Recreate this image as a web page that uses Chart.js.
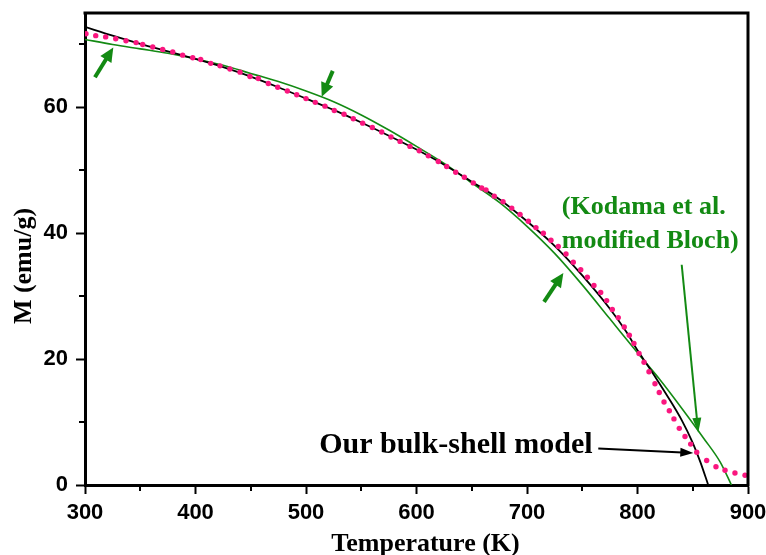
<!DOCTYPE html>
<html>
<head>
<meta charset="utf-8">
<script src="https://cdn.jsdelivr.net/npm/chart.js@4.4.0/dist/chart.umd.min.js"></script>
<style>
  html, body { margin: 0; padding: 0; background: #fff; }
</style>
</head>
<body>
<canvas id="chart" width="766" height="555"></canvas>
<script>
// measured magnetization (pink dots)
const measT = [300.9, 309.7, 318.7, 327.8, 337.1, 346.2, 352.2, 361.3, 370.3, 379.4,
  388.4, 397.5, 404.7, 413.8, 422.2, 431.2, 440.3, 449.3, 456.8, 465.9,
  474.4, 483.1, 491.6, 500.0, 508.4, 517.2, 525.6, 534.4, 542.8, 551.3,
  560.0, 568.5, 576.9, 585.1, 594.1, 602.5, 610.7, 619.7, 627.3, 635.5,
  643.3, 651.4, 659.0, 662.9, 670.4, 678.3, 686.2, 693.7, 701.2, 708.1,
  714.8, 721.7, 728.3, 735.3, 741.9, 748.6, 754.6, 760.6, 766.7, 772.1,
  777.2, 782.6, 788.0, 792.6, 796.8, 801.4, 805.9, 810.4, 815.8, 819.7,
  824.0, 828.8, 833.0, 837.8, 843.0, 848.1, 853.6, 862.6, 871.0, 879.2,
  888.2, 897.3];
const measM = [71.7, 71.4, 71.2, 70.9, 70.6, 70.3, 70.0, 69.6, 69.2, 68.8,
  68.3, 67.9, 67.6, 67.0, 66.6, 66.1, 65.6, 64.9, 64.6, 63.8,
  63.2, 62.6, 62.0, 61.4, 60.8, 60.2, 59.5, 58.9, 58.2, 57.5,
  56.8, 56.1, 55.3, 54.6, 53.8, 53.1, 52.3, 51.4, 50.6, 49.7,
  48.9, 48.0, 47.2, 46.9, 45.9, 45.0, 44.0, 43.0, 41.9, 40.9,
  40.0, 38.9, 37.9, 36.7, 35.4, 34.2, 33.0, 31.7, 30.6, 29.3,
  27.9, 26.6, 25.1, 23.8, 22.5, 20.9, 19.5, 18.0, 16.1, 14.7,
  13.2, 11.8, 10.5, 9.0, 7.7, 6.5, 5.2, 3.9, 2.9, 2.35,
  1.9, 1.55];

// bulk-shell model (black line)
const modelT = [300, 325, 350, 375, 400, 425, 450, 475, 500, 525, 550, 575, 600, 625, 650,
  675, 700, 725, 750, 775, 790, 800, 810, 820, 830, 840, 850, 857, 864];
const modelM = [72.8, 71.4, 70.1, 68.9, 67.7, 66.4, 64.9, 63.2, 61.4, 59.6, 57.6, 55.5, 53.3, 50.9, 48.2,
  45.4, 41.9, 38.0, 33.3, 28.0, 24.3, 21.4, 18.8, 16.1, 13.3, 10.3, 6.7, 3.6, 0];

// Kodama et al. modified Bloch (green line)
const blochT = [300, 325, 350, 375, 400, 425, 450, 475, 500, 525, 550, 575, 600, 625, 650,
  675, 700, 725, 750, 775, 800, 820, 840, 860, 875, 885];
const blochM = [70.8, 70.0, 69.3, 68.6, 67.7, 66.7, 65.4, 64.1, 62.6, 60.9, 58.8, 56.4, 53.8, 51.1, 48.0,
  44.9, 41.1, 36.8, 31.8, 26.4, 21.0, 16.8, 12.2, 7.4, 3.6, 0];

const xTicks = [300, 400, 500, 600, 700, 800, 900];
const xMinor = [350, 450, 550, 650, 750, 850];
const yTicks = [0, 20, 40, 60];
const yMinor = [10, 30, 50, 70];

const GREEN = '#138a13';
const PINK = '#fa167f';

// arrows and notes, in data units
const arrows = [
  { from: [309.0, 64.8], to: [325.6, 69.5], color: GREEN, w: 4, head: 14, half: 6.5 },
  { from: [524.2, 65.8], to: [514.2, 61.7], color: GREEN, w: 4, head: 14, half: 6.5 },
  { from: [715.4, 29.1], to: [732.9, 33.7], color: GREEN, w: 4, head: 14, half: 6.5 },
  { from: [840.0, 35.0], to: [855.0, 8.3], color: GREEN, w: 2, head: 15, half: 4.5 },
  { from: [764.5, 5.8], to: [850.5, 5.1], color: '#000', w: 2, head: 13, half: 4.5 }
];
const notes = [
  { text: '(Kodama et al.', x: 731.5, y: 43.0, color: GREEN },
  { text: 'modified Bloch)', x: 731.5, y: 37.7, color: GREEN },
  { text: 'Our bulk-shell model', x: 511.9, y: 5.1, color: '#000', size: 30 }
];

const pts = (xs, ys) => xs.map((v, i) => ({ x: v, y: ys[i] }));

const decor = {
  id: 'decor',
  afterDraw(chart) {
    const { ctx, chartArea: a, scales: { x, y } } = chart;
    ctx.save();
    ctx.strokeStyle = '#000';
    ctx.lineWidth = 3;
    ctx.beginPath();
    ctx.moveTo(a.left - 1.5, a.top);
    ctx.lineTo(a.right, a.top);
    ctx.lineTo(a.right, a.bottom + 1.5);
    ctx.stroke();

    // minor ticks
    ctx.lineWidth = 2;
    ctx.beginPath();
    xMinor.forEach(v => {
      const px = Math.round(x.getPixelForValue(v));
      ctx.moveTo(px, a.bottom);
      ctx.lineTo(px, a.bottom + 6);
    });
    yMinor.forEach(v => {
      const py = Math.round(y.getPixelForValue(v));
      ctx.moveTo(a.left, py);
      ctx.lineTo(a.left - 6, py);
    });
    ctx.stroke();

    // arrows
    arrows.forEach(ar => {
      const x0 = x.getPixelForValue(ar.from[0]), y0 = y.getPixelForValue(ar.from[1]);
      const x1 = x.getPixelForValue(ar.to[0]), y1 = y.getPixelForValue(ar.to[1]);
      const ang = Math.atan2(y1 - y0, x1 - x0);
      const bx = x1 - Math.cos(ang) * ar.head, by = y1 - Math.sin(ang) * ar.head;
      ctx.strokeStyle = ar.color;
      ctx.fillStyle = ar.color;
      ctx.lineWidth = ar.w;
      ctx.beginPath();
      ctx.moveTo(x0, y0);
      ctx.lineTo(bx + Math.cos(ang) * 2, by + Math.sin(ang) * 2);
      ctx.stroke();
      ctx.beginPath();
      ctx.moveTo(x1, y1);
      ctx.lineTo(bx + Math.sin(ang) * ar.half, by - Math.cos(ang) * ar.half);
      ctx.lineTo(bx - Math.sin(ang) * ar.half, by + Math.cos(ang) * ar.half);
      ctx.closePath();
      ctx.fill();
    });

    // notes
    ctx.textBaseline = 'alphabetic';
    ctx.textAlign = 'left';
    notes.forEach(n => {
      ctx.font = 'bold ' + (n.size || 26) + 'px "Liberation Serif", "Times New Roman", serif';
      ctx.fillStyle = n.color;
      ctx.fillText(n.text, x.getPixelForValue(n.x), y.getPixelForValue(n.y));
    });

    // axis titles
    ctx.fillStyle = '#000';
    ctx.font = 'bold 26px "Liberation Serif", "Times New Roman", serif';
    ctx.textAlign = 'center';
    ctx.fillText('Temperature (K)', (a.left + a.right) / 2 + 9, chart.height - 4);
    ctx.translate(31, (a.top + a.bottom) / 2 + 17);
    ctx.rotate(-Math.PI / 2);
    ctx.fillText('M (emu/g)', 0, 0);
    ctx.restore();
  }
};

const tickFont = { family: '"Liberation Sans", Arial, sans-serif', size: 22, weight: 'bold' };

new Chart(document.getElementById('chart'), {
  type: 'scatter',
  data: {
    datasets: [
      {
        label: 'measured',
        data: pts(measT, measM),
        showLine: false,
        pointRadius: 2.7,
        pointBorderWidth: 0,
        pointBackgroundColor: PINK
      },
      {
        label: 'bulk-shell model',
        data: pts(modelT, modelM),
        showLine: true,
        borderColor: '#000',
        borderWidth: 1.8,
        pointRadius: 0,
        cubicInterpolationMode: 'monotone'
      },
      {
        label: 'modified Bloch',
        data: pts(blochT, blochM),
        showLine: true,
        borderColor: GREEN,
        borderWidth: 1.6,
        pointRadius: 0,
        cubicInterpolationMode: 'monotone'
      }
    ]
  },
  options: {
    responsive: false,
    animation: false,
    events: [],
    layout: { padding: { top: 13, right: 18, left: 0, bottom: 0 } },
    plugins: { legend: { display: false }, tooltip: { enabled: false } },
    scales: {
      x: {
        type: 'linear',
        min: 300,
        max: 900,
        afterBuildTicks: s => { s.ticks = xTicks.map(v => ({ value: v })); },
        afterFit: s => { s.height = 70; s.paddingLeft = 0; s.paddingRight = 0; },
        ticks: { font: tickFont, color: '#000', padding: 6, maxRotation: 0 },
        grid: { drawOnChartArea: false, drawTicks: true, tickLength: 9, tickWidth: 2, tickColor: '#000' },
        border: { display: true, width: 3, color: '#000' }
      },
      y: {
        type: 'linear',
        min: 0,
        max: 75,
        afterBuildTicks: s => { s.ticks = yTicks.map(v => ({ value: v })); },
        afterFit: s => { s.width = 85; s.paddingTop = 0; s.paddingBottom = 0; },
        ticks: { font: tickFont, color: '#000', padding: 8 },
        grid: { drawOnChartArea: false, drawTicks: true, tickLength: 9, tickWidth: 2, tickColor: '#000' },
        border: { display: true, width: 3, color: '#000' }
      }
    }
  },
  plugins: [decor]
});
</script>
</body>
</html>
